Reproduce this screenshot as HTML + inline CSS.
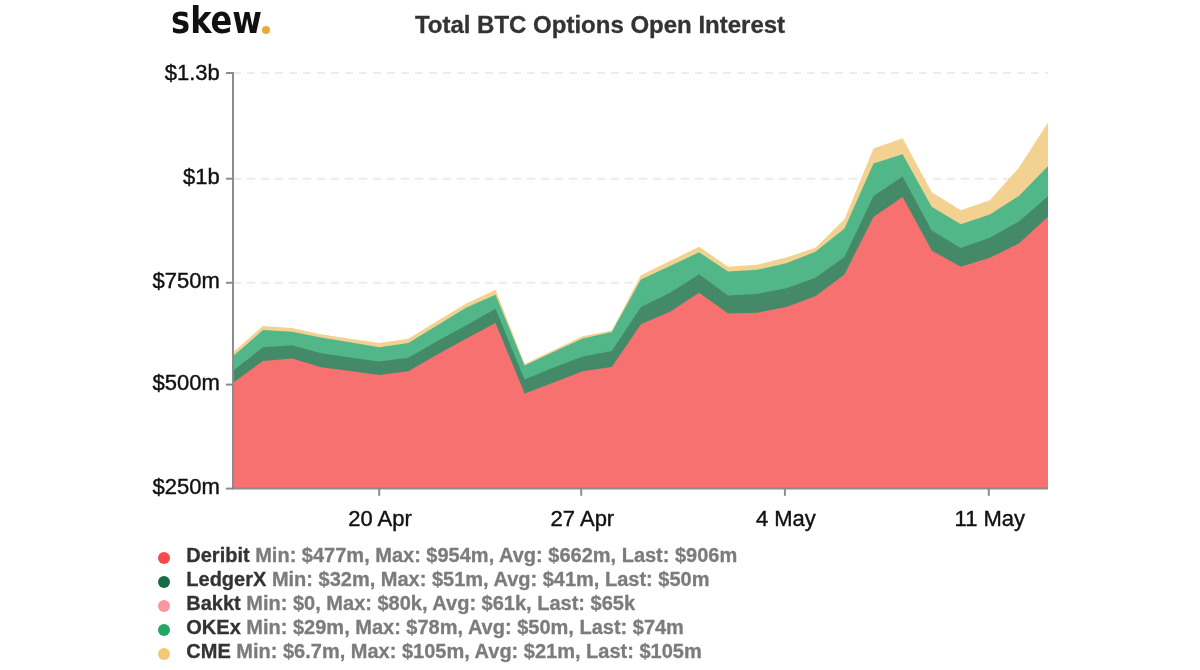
<!DOCTYPE html>
<html><head><meta charset="utf-8"><title>Total BTC Options Open Interest</title>
<style>
html,body{margin:0;padding:0;background:#fff;}
body{width:1200px;height:670px;position:relative;overflow:hidden;font-family:"Liberation Sans",Arial,Helvetica,sans-serif;}
.ax{font-family:"Liberation Sans",Arial,sans-serif;font-size:22px;fill:#111;stroke:#111;stroke-width:0.4px;}
.title{position:absolute;left:0;width:1200px;top:11px;text-align:center;font-weight:bold;font-size:24px;color:#333;-webkit-text-stroke:0.3px #333;line-height:28px;white-space:nowrap;}
.logo{position:absolute;left:170.8px;top:-4.9px;font-family:"DejaVu Sans Condensed","DejaVu Sans","Liberation Sans",sans-serif;font-weight:bold;font-size:37.8px;line-height:50px;color:#111;letter-spacing:0;white-space:nowrap;}
.logo span{display:inline-block;transform:scaleX(0.945);transform-origin:0 0;}
.logo i{position:absolute;left:91.3px;top:30.6px;width:8.2px;height:8.2px;border-radius:50%;background:#e9a93a;color:transparent;font-style:normal;font-size:8px;line-height:8px;letter-spacing:0;overflow:hidden;}
.dot{position:absolute;left:158px;width:12px;height:12px;border-radius:50%;}
.lg{position:absolute;left:186.3px;-webkit-text-stroke:0.3px;font-size:20px;line-height:24px;font-weight:bold;color:#333;white-space:nowrap;}
.lg span{color:#7c7c7c;}
</style></head><body>
<svg width="1200" height="670" viewBox="0 0 1200 670" style="position:absolute;left:0;top:0">
<line x1="233" x2="1048" y1="73.0" y2="73.0" stroke="#ececec" stroke-width="2" stroke-dasharray="8,6"/>
<line x1="233" x2="1048" y1="178.7" y2="178.7" stroke="#ececec" stroke-width="2" stroke-dasharray="8,6"/>
<line x1="233" x2="1048" y1="282.8" y2="282.8" stroke="#ececec" stroke-width="2" stroke-dasharray="8,6"/>
<line x1="233" x2="1048" y1="384.6" y2="384.6" stroke="#ececec" stroke-width="2" stroke-dasharray="8,6"/>
<path d="M233.8,488.6 L233.8,351.8 L262.9,325.9 L292.0,328.1 L321.0,334.3 L350.1,338.8 L379.2,343.1 L408.3,338.8 L437.4,321.0 L466.4,303.4 L495.5,289.7 L524.6,364.0 L553.7,350.0 L582.7,336.3 L611.8,330.6 L640.9,275.2 L670.0,261.0 L699.1,246.8 L728.1,266.8 L757.2,264.8 L786.3,257.6 L815.4,247.7 L844.5,219.2 L873.5,148.5 L902.6,138.3 L931.7,192.2 L960.8,210.3 L989.8,200.2 L1018.9,167.7 L1048.0,122.4 L1048.0,488.6 Z" fill="#f3d191"/>
<path d="M233.8,488.6 L233.8,355.6 L262.9,330.1 L292.0,331.8 L321.0,337.6 L350.1,342.3 L379.2,347.2 L408.3,343.0 L437.4,325.2 L466.4,307.6 L495.5,294.7 L524.6,365.5 L553.7,351.7 L582.7,338.4 L611.8,332.1 L640.9,279.4 L670.0,266.0 L699.1,252.3 L728.1,271.5 L757.2,269.8 L786.3,263.2 L815.4,251.8 L844.5,228.4 L873.5,163.5 L902.6,154.2 L931.7,206.8 L960.8,224.2 L989.8,214.4 L1018.9,196.0 L1048.0,165.9 L1048.0,488.6 Z" fill="#52b788"/>
<path d="M233.8,488.6 L233.8,370.2 L262.9,347.3 L292.0,345.2 L321.0,353.2 L350.1,357.4 L379.2,361.5 L408.3,357.8 L437.4,341.0 L466.4,325.2 L495.5,308.8 L524.6,379.6 L553.7,367.5 L582.7,356.5 L611.8,351.0 L640.9,307.0 L670.0,292.7 L699.1,274.3 L728.1,295.6 L757.2,293.9 L786.3,288.3 L815.4,277.8 L844.5,256.9 L873.5,196.0 L902.6,176.4 L931.7,230.5 L960.8,248.0 L989.8,237.7 L1018.9,221.5 L1048.0,196.2 L1048.0,488.6 Z" fill="#458a68"/>
<path d="M233.8,488.6 L233.8,382.2 L262.9,361.0 L292.0,358.5 L321.0,367.2 L350.1,371.1 L379.2,374.9 L408.3,371.3 L437.4,354.4 L466.4,338.5 L495.5,323.1 L524.6,393.4 L553.7,382.5 L582.7,371.3 L611.8,366.9 L640.9,324.3 L670.0,311.8 L699.1,292.7 L728.1,313.6 L757.2,312.8 L786.3,307.0 L815.4,296.2 L844.5,274.4 L873.5,216.9 L902.6,197.0 L931.7,250.6 L960.8,266.8 L989.8,257.8 L1018.9,243.5 L1048.0,216.8 L1048.0,488.6 Z" fill="#f87171"/>
<path d="M226,73 H233 V488.6 H1048" fill="none" stroke="#8c8c8c" stroke-width="2"/>
<line x1="226" x2="233" y1="178.7" y2="178.7" stroke="#8c8c8c" stroke-width="2"/>
<line x1="226" x2="233" y1="282.8" y2="282.8" stroke="#8c8c8c" stroke-width="2"/>
<line x1="226" x2="233" y1="384.6" y2="384.6" stroke="#8c8c8c" stroke-width="2"/>
<line x1="226" x2="233" y1="488.6" y2="488.6" stroke="#8c8c8c" stroke-width="2"/>
<line x1="379.2" x2="379.2" y1="488.5" y2="495.8" stroke="#8c8c8c" stroke-width="2"/>
<line x1="581.2" x2="581.2" y1="488.5" y2="495.8" stroke="#8c8c8c" stroke-width="2"/>
<line x1="784.9" x2="784.9" y1="488.5" y2="495.8" stroke="#8c8c8c" stroke-width="2"/>
<line x1="988.8" x2="988.8" y1="488.5" y2="495.8" stroke="#8c8c8c" stroke-width="2"/>
<text x="219.8" y="79.7" text-anchor="end" class="ax">$1.3b</text>
<text x="219.8" y="184.0" text-anchor="end" class="ax">$1b</text>
<text x="219.8" y="287.7" text-anchor="end" class="ax">$750m</text>
<text x="219.8" y="389.6" text-anchor="end" class="ax">$500m</text>
<text x="219.8" y="493.8" text-anchor="end" class="ax">$250m</text>
<text x="380.0" y="526" text-anchor="middle" class="ax">20 Apr</text>
<text x="582.4" y="526" text-anchor="middle" class="ax">27 Apr</text>
<text x="785.9" y="526" text-anchor="middle" class="ax">4 May</text>
<text x="989.8" y="526" text-anchor="middle" class="ax">11 May</text>
</svg>
<div class="logo"><span>skew</span><i>.</i></div>
<div class="title">Total BTC Options Open Interest</div>
<div class="dot" style="top:552px;background:#f84a4a"></div>
<div class="lg" style="top:543.2px"><b>Deribit</b> <span>Min: $477m, Max: $954m, Avg: $662m, Last: $906m</span></div>
<div class="dot" style="top:576px;background:#176b45"></div>
<div class="lg" style="top:567.2px"><b>LedgerX</b> <span>Min: $32m, Max: $51m, Avg: $41m, Last: $50m</span></div>
<div class="dot" style="top:600px;background:#f8999b"></div>
<div class="lg" style="top:591.2px"><b>Bakkt</b> <span>Min: $0, Max: $80k, Avg: $61k, Last: $65k</span></div>
<div class="dot" style="top:624px;background:#27a567"></div>
<div class="lg" style="top:615.2px"><b>OKEx</b> <span>Min: $29m, Max: $78m, Avg: $50m, Last: $74m</span></div>
<div class="dot" style="top:648px;background:#f3c877"></div>
<div class="lg" style="top:639.2px"><b>CME</b> <span>Min: $6.7m, Max: $105m, Avg: $21m, Last: $105m</span></div>
</body></html>
